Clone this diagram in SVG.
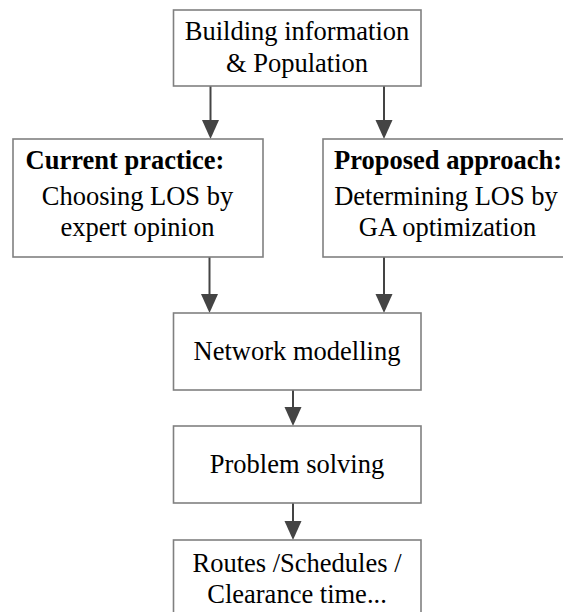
<svg xmlns="http://www.w3.org/2000/svg" width="563" height="612" viewBox="0 0 563 612">
<defs>
<style>
.box{fill:#fff;stroke:#808080;stroke-width:1.6}
.t{font-family:"Liberation Serif","Times New Roman",serif;font-size:26.5px;fill:#000;text-anchor:middle}
.b{font-weight:bold}
.c{stroke:#444;stroke-width:2;fill:none}
.h{fill:#444}
</style>
</defs>
<rect width="563" height="612" fill="#fff"/>
<g id="connectors">
<line class="c" x1="210.5" y1="86" x2="210.5" y2="121"/>
<path class="h" d="M202,120 L219,120 L210.5,139 Z"/>
<line class="c" x1="384" y1="86" x2="384" y2="121"/>
<path class="h" d="M375.5,120 L392.5,120 L384,139 Z"/>
<line class="c" x1="209.5" y1="257" x2="209.5" y2="295"/>
<path class="h" d="M201,294 L218,294 L209.5,313 Z"/>
<line class="c" x1="384" y1="257" x2="384" y2="295"/>
<path class="h" d="M375.5,294 L392.5,294 L384,313 Z"/>
<line class="c" x1="293" y1="390" x2="293" y2="408"/>
<path class="h" d="M284.5,407 L301.5,407 L293,426 Z"/>
<line class="c" x1="293" y1="503" x2="293" y2="522"/>
<path class="h" d="M284.5,521 L301.5,521 L293,540 Z"/>
</g>
<g id="building">
<rect class="box" x="173.5" y="10" width="247.5" height="76"/>
<text class="t" x="297" y="40">Building information</text>
<text class="t" x="297" y="72">&amp; Population</text>
</g>
<g id="current">
<rect class="box" x="13" y="139" width="250" height="118"/>
<text class="t b" x="125" y="169">Current practice:</text>
<text class="t" x="137.5" y="205">Choosing LOS by</text>
<text class="t" x="137.5" y="236">expert opinion</text>
</g>
<g id="proposed">
<rect class="box" x="323" y="139" width="250" height="118"/>
<text class="t b" x="448" y="169">Proposed approach:</text>
<text class="t" x="446" y="205">Determining LOS by</text>
<text class="t" x="447.5" y="236">GA optimization</text>
</g>
<g id="network">
<rect class="box" x="173.5" y="313" width="247.5" height="77"/>
<text class="t" x="297" y="360">Network modelling</text>
</g>
<g id="problem">
<rect class="box" x="173.5" y="426" width="247.5" height="77"/>
<text class="t" x="297" y="473">Problem solving</text>
</g>
<g id="results">
<rect class="box" x="173.5" y="540" width="247.5" height="80"/>
<text class="t" x="297" y="572">Routes /Schedules /</text>
<text class="t" x="297" y="603">Clearance time...</text>
</g>
</svg>
